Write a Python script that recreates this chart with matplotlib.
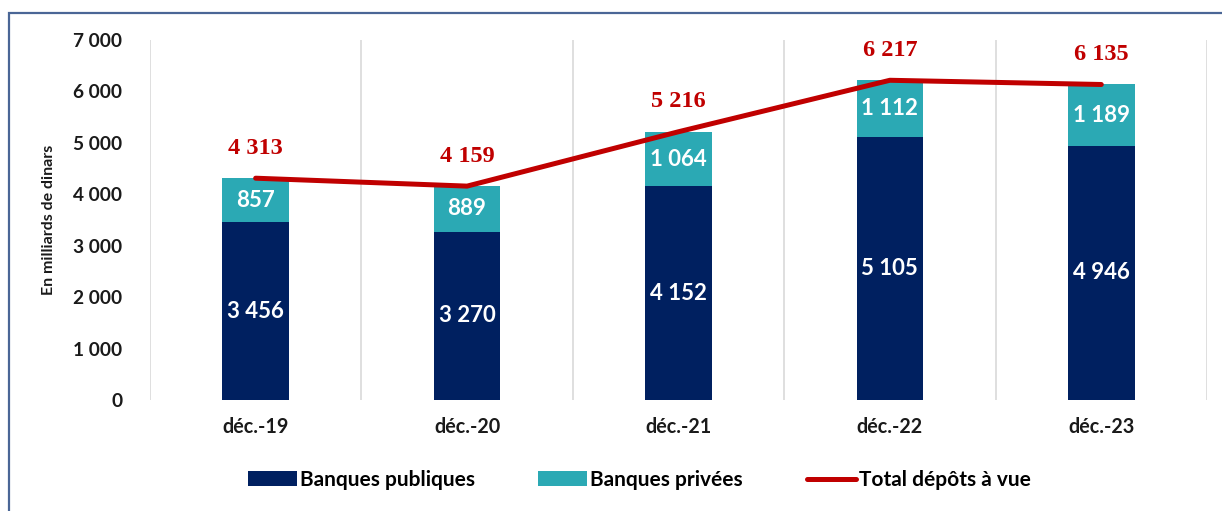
import numpy as np
import matplotlib
matplotlib.use("Agg")
import matplotlib.pyplot as plt
from matplotlib.patches import Rectangle

periods = ["déc.-19", "déc.-20", "déc.-21", "déc.-22", "déc.-23"]
publiques = [3456, 3270, 4152, 5105, 4946]
privees = [857, 889, 1064, 1112, 1189]
total = [4313, 4159, 5216, 6217, 6135]

navy = "#002060"
teal = "#2BA9B4"
red = "#C00000"

def fmt(v):
    return f"{v:,}".replace(",", " ")

plt.rcParams["font.family"] = ["Lato", "DejaVu Sans"]

fig = plt.figure(figsize=(12.22, 5.11), dpi=100)
ax = fig.add_axes([0.1227, 0.2172, 0.865, 0.7045])

x = np.arange(len(periods))
w = 0.315
ax.bar(x, publiques, w, color=navy, label="Banques publiques", zorder=2)
ax.bar(x, privees, w, bottom=publiques, color=teal, label="Banques privées", zorder=2)
ax.plot(x, total, color=red, lw=3.6, solid_capstyle="round", label="Total dépôts à vue", zorder=3)

for i in range(len(x)):
    ax.text(x[i], publiques[i] / 2, fmt(publiques[i]), ha="center", va="center",
            color="white", fontsize=16, fontweight="bold", zorder=4)
    ax.text(x[i], publiques[i] + privees[i] / 2, fmt(privees[i]), ha="center", va="center",
            color="white", fontsize=16, fontweight="bold", zorder=4)
    ax.annotate(fmt(total[i]), (x[i], total[i]), xytext=(0, 30), textcoords="offset pixels",
                ha="center", va="center", color=red, fontsize=17.5, fontweight="bold",
                family="Liberation Serif", zorder=4)

ax.set_xlim(-0.5, len(x) - 0.5)
ax.set_ylim(0, 7000)
ax.set_yticks(range(0, 7001, 1000))
ax.set_yticklabels([fmt(v) for v in range(0, 7001, 1000)])
ax.set_xticks(x)
ax.set_xticklabels(periods)
for b in np.arange(-0.5, len(x), 1.0):
    ax.axvline(b, color="#D9D9D9", lw=1.2, zorder=1)
for s in ax.spines.values():
    s.set_visible(False)
ax.tick_params(length=0)
ax.tick_params(axis="y", pad=20, labelsize=13.8, labelcolor="#1a1a1a")
ax.tick_params(axis="x", pad=12, labelsize=14.2, labelcolor="#1a1a1a")
for lab in ax.get_xticklabels() + ax.get_yticklabels():
    lab.set_fontweight("bold")
ax.set_ylabel("En milliards de dinars", fontsize=11.5, fontweight="bold", color="#1a1a1a", labelpad=12)

handles, labels = ax.get_legend_handles_labels()
order = [1, 2, 0]
leg = fig.legend([handles[k] for k in order], [labels[k] for k in order],
                 loc="center", bbox_to_anchor=(0.523, 0.061), ncol=3, frameon=False,
                 prop={"weight": "bold", "size": 15}, handlelength=2.35, handletextpad=0.15,
                 columnspacing=3.05)

fig.patches.append(Rectangle((9 / 1222, -0.1), 1.2, 0.1 + (1 - 13 / 511), transform=fig.transFigure,
                             fill=False, edgecolor="#4A6696", lw=1.6, clip_on=False))

fig.savefig("out.png", dpi=100)
